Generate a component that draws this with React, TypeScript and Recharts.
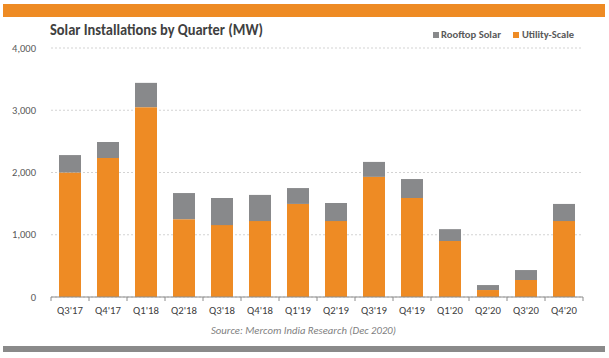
import React from 'react';
import { BarChart, Bar, XAxis, YAxis, CartesianGrid } from 'recharts';

const quarters = ["Q3'17", "Q4'17", "Q1'18", "Q2'18", "Q3'18", "Q4'18", "Q1'19", "Q2'19", "Q3'19", "Q4'19", "Q1'20", "Q2'20", "Q3'20", "Q4'20"];
const utilityScale = [2000, 2233, 3050, 1250, 1155, 1220, 1495, 1220, 1930, 1590, 900, 112, 273, 1220];
const rooftopSolar = [280, 257, 390, 420, 435, 420, 255, 290, 240, 305, 190, 80, 160, 275];
const yTicks = [0, 1000, 2000, 3000, 4000];

const titleText = 'Solar Installations by Quarter (MW)';
const sourceText = 'Source: Mercom India Research (Dec 2020)';
const legendNames = ['Rooftop Solar', 'Utility-Scale'];

const data = quarters.map((q, i) => ({ quarter: q, utility: utilityScale[i], rooftop: rooftopSolar[i] }));

const ORANGE = '#EE8B24';
const GRAY = '#88898B';
const FONT = "Carlito, 'Liberation Sans Narrow', 'Liberation Sans', Arial, sans-serif";

const CW: Record<string, number> = {
  '0': 0.507, '1': 0.507, '2': 0.507, '3': 0.507, '4': 0.507, '5': 0.507, '6': 0.507, '7': 0.507, '8': 0.507, '9': 0.507,
  ',': 0.25, "'": 0.221, Q: 0.653,
};
const calW = (s: string, size: number) => s.split('').reduce((a, c) => a + (CW[c] ?? 0.5), 0) * size;

const fmt = (v: number) => v.toLocaleString('en-US');

const XTick = (props: any) => {
  const { x, y, payload, index } = props;
  const half = payload?.offset || 19;
  const label = String(payload.value);
  const fs = 10.8;
  return (
    <g>
      <line x1={x - half} x2={x - half} y1={y} y2={y + 4} stroke="#8C8C8C" strokeWidth={1} />
      {index === quarters.length - 1 && (
        <line x1={x + half} x2={x + half} y1={y} y2={y + 4} stroke="#8C8C8C" strokeWidth={1} />
      )}
      <text x={x} y={y + 17} textAnchor="middle" fontSize={fs} fill="#404040" fontFamily={FONT}
        textLength={calW(label, fs)} lengthAdjust="spacingAndGlyphs">{label}</text>
    </g>
  );
};

const YTick = (props: any) => {
  const { x, y, payload } = props;
  const label = fmt(Number(payload.value));
  const fs = 10.5;
  return (
    <text x={x - 15} y={y + 3.5} textAnchor="end" fontSize={fs} fill="#595959" fontFamily={FONT}
      textLength={calW(label, fs)} lengthAdjust="spacingAndGlyphs">{label}</text>
  );
};

export default function App() {
  return (
    <div style={{ position: 'absolute', left: 0, top: 0, width: 609, height: 358, background: '#fff', overflow: 'hidden' }}>
      <div style={{ position: 'absolute', left: 3, top: 4, width: 602, height: 13, background: ORANGE }} />
      <div style={{ position: 'absolute', left: 3, top: 346, width: 602, height: 6, background: '#8A8A8A' }} />
      <div style={{ position: 'absolute', left: 0, top: 0 }}>
        <BarChart width={609} height={358} data={data} margin={{ top: 48, right: 26, bottom: 31, left: 11 }}>
          <CartesianGrid vertical={false} stroke="#D3D3D3" strokeDasharray="2 2" />
          <XAxis dataKey="quarter" height={30} tickSize={0} tickMargin={0} tickLine={false}
            axisLine={{ stroke: '#8C8C8C' }} tick={<XTick />} interval={0} />
          <YAxis width={40} domain={[0, 4000]} ticks={yTicks} tickSize={0} tickMargin={0}
            axisLine={false} tickLine={false} tick={<YTick />} />
          <Bar dataKey="utility" stackId="a" fill={ORANGE} barSize={22} isAnimationActive={false} />
          <Bar dataKey="rooftop" stackId="a" fill={GRAY} barSize={22} isAnimationActive={false} />
        </BarChart>
      </div>
      <svg width={609} height={358} style={{ position: 'absolute', left: 0, top: 0, pointerEvents: 'none' }}>
        <text x={50} y={35} fontSize={15.5} fontWeight="bold" fill="#404040" fontFamily={FONT}
          textLength={213} lengthAdjust="spacingAndGlyphs">{titleText}</text>
        <rect x={433} y={32} width={6} height={6} fill={GRAY} />
        <text x={441} y={37.5} fontSize={10.5} fontWeight="bold" fill="#595959" fontFamily={FONT}
          textLength={60} lengthAdjust="spacingAndGlyphs">{legendNames[0]}</text>
        <rect x={513} y={32} width={6} height={6} fill={ORANGE} />
        <text x={522} y={37.5} fontSize={10.5} fontWeight="bold" fill="#595959" fontFamily={FONT}
          textLength={52} lengthAdjust="spacingAndGlyphs">{legendNames[1]}</text>
        <text x={211} y={334} fontSize={10.5} fontStyle="italic" fill="#7F7F7F" fontFamily={FONT}
          textLength={185} lengthAdjust="spacingAndGlyphs">{sourceText}</text>
      </svg>
    </div>
  );
}
